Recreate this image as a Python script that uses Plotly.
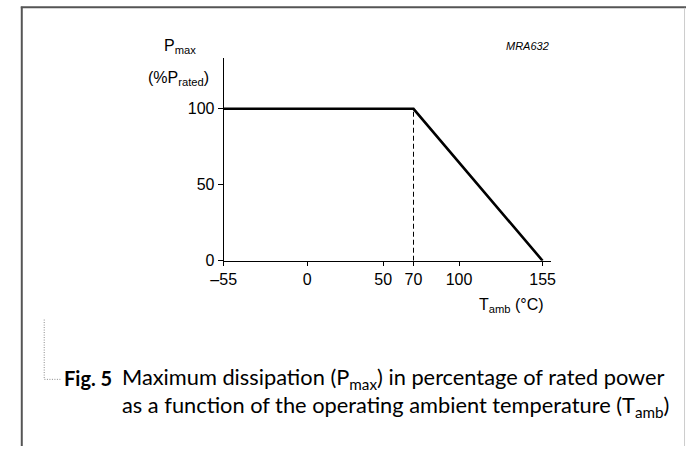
import plotly.graph_objects as go

# ---- data ----
temp_c = [-55, 70, 155]
p_max_pct = [100, 100, 0]
x_ticks = [-55, 0, 50, 70, 100, 155]
x_tick_text = ["\u201355", "0", "50", "70", "100", "155"]
y_ticks = [0, 50, 100]
y_tick_text = ["0", "50", "100"]
knee_temp = 70
knee_power = 100

W, H = 690, 455
def px(x):
    return x / W
def py(y):
    return 1 - y / H

AX_FONT = "Liberation Sans, Arial, sans-serif"
CAP_FONT = "Lato, 'Open Sans', sans-serif"

fig = go.Figure()
fig.add_trace(go.Scatter(x=temp_c, y=p_max_pct, mode="lines",
                         line=dict(color="black", width=2.6),
                         cliponaxis=False, hoverinfo="skip", showlegend=False))

fig.update_layout(
    width=W, height=H,
    margin=dict(l=0, r=0, t=0, b=0),
    paper_bgcolor="white", plot_bgcolor="white",
    showlegend=False,
    xaxis=dict(domain=[px(216), px(552)], range=[-55, 160.8],
               tickvals=x_ticks, ticktext=x_tick_text,
               showline=True, linecolor="black", linewidth=1,
               ticks="outside", ticklen=4, tickwidth=1, tickcolor="black",
               showgrid=False, zeroline=False, fixedrange=True,
               tickfont=dict(family=AX_FONT, size=16, color="black")),
    yaxis=dict(domain=[py(266), py(59)], range=[0, 100 * (266 - 59) / (266 - 111)],
               tickvals=y_ticks, ticktext=y_tick_text,
               showline=True, linecolor="black", linewidth=1,
               ticks="outside", ticklen=5, tickwidth=1, tickcolor="black",
               showgrid=False, zeroline=False, fixedrange=True,
               tickfont=dict(family=AX_FONT, size=16, color="black")),
)

# dashed drop line at the knee
fig.add_shape(type="line", xref="x", yref="y", x0=knee_temp, x1=knee_temp,
              y0=0, y1=knee_power, line=dict(color="black", width=1, dash="5px,3px"))

# frame (left + top dark, right light)
fig.add_shape(type="line", xref="paper", yref="paper", x0=px(9), x1=px(9), y0=py(7), y1=0,
              line=dict(color="#555555", width=2))
fig.add_shape(type="line", xref="paper", yref="paper", x0=px(8), x1=1, y0=py(7.5), y1=py(7.5),
              line=dict(color="#555555", width=2))
fig.add_shape(type="line", xref="paper", yref="paper", x0=px(688.5), x1=px(688.5), y0=py(8), y1=0,
              line=dict(color="#cccccc", width=1))

CAP1_Y = 386
CAP_LINE = 28

# dotted caption bracket
fig.add_shape(type="path", xref="paper", yref="paper",
              path=f"M {px(32)},{py(326)} L {px(32)},{py(CAP1_Y + 1)} L {px(49)},{py(CAP1_Y + 1)}",
              line=dict(color="#888888", width=1, dash="1px,1.5px"))

def ann(text, x, y, size, family, xanchor="left", yanchor="middle", **kw):
    fig.add_annotation(text=text, x=px(x), y=py(y), xref="paper", yref="paper",
                       xanchor=xanchor, yanchor=yanchor, showarrow=False,
                       font=dict(family=family, size=size, color="black"), **kw)

ann("P<sub>max</sub>", 153, 47, 16, AX_FONT)
ann("(%P<sub>rated</sub>)", 136, 80, 16, AX_FONT)
ann("<i>MRA632</i>", 528, 47, 11, AX_FONT, xanchor="center")
ann("T<sub>amb</sub> (\u00b0C)", 546, 312, 16, AX_FONT, xanchor="right")

ann("<b>Fig. 5</b>", 50, CAP1_Y, 20, CAP_FONT)
ann("Maximum dissipation (P<sub>max</sub>) in percentage of rated power<br>"
    "as a function of the operating ambient temperature (T<sub>amb</sub>)",
    110, CAP1_Y + CAP_LINE / 2, 21.8, CAP_FONT, align="left")

fig.write_html("out.html", config={"displayModeBar": False, "staticPlot": True},
               post_script="document.body.style.margin='0';document.body.style.overflow='hidden';")
